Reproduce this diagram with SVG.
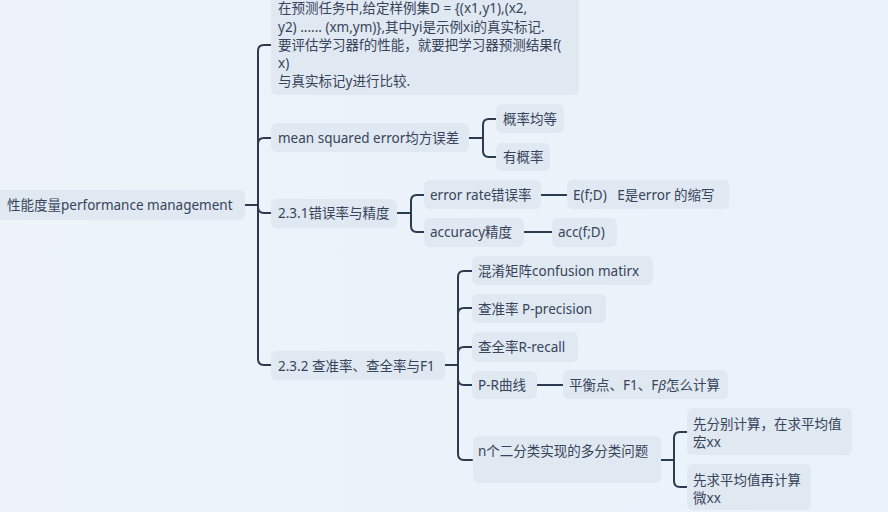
<svg xmlns="http://www.w3.org/2000/svg" width="888" height="512" viewBox="0 0 888 512">
<defs>
<linearGradient id="bg" x1="0" y1="0" x2="1" y2="0">
<stop offset="0" stop-color="#EDF3F9"/>
<stop offset="1" stop-color="#E9F2FB"/>
</linearGradient>
</defs>
<style>
.n{fill:#E0E8F1}
.t{font-family:"Noto Sans","Noto Sans CJK SC",sans-serif;font-size:13.5px;fill:#37445A}
.c{fill:none;stroke:#2E3A50;stroke-width:2;stroke-linecap:round}
</style>
<rect width="888" height="512" fill="url(#bg)"/>
<g id="connectors">
<path class="c" d="M245,205 H258"/>
<path class="c" d="M258,205 V51 Q258,45 264,45 H271"/>
<path class="c" d="M258,205 V144 Q258,138 264,138 H271"/>
<path class="c" d="M258,205 V207 Q258,213 264,213 H271"/>
<path class="c" d="M258,205 V359 Q258,365 264,365 H271"/>
<path class="c" d="M469,138 H483"/>
<path class="c" d="M483,138 V125 Q483,119 489,119 H496"/>
<path class="c" d="M483,138 V151 Q483,157 489,157 H496"/>
<path class="c" d="M397,213 H411"/>
<path class="c" d="M411,213 V201 Q411,195 417,195 H424"/>
<path class="c" d="M411,213 V226 Q411,232 417,232 H424"/>
<path class="c" d="M541,195 H567"/>
<path class="c" d="M524,232 H552"/>
<path class="c" d="M445,365 H458"/>
<path class="c" d="M458,365 V277 Q458,271 464,271 H472"/>
<path class="c" d="M458,365 V314 Q458,308 464,308 H472"/>
<path class="c" d="M458,365 V353 Q458,347 464,347 H472"/>
<path class="c" d="M458,365 V379 Q458,385 464,385 H472"/>
<path class="c" d="M458,365 V454 Q458,460 464,460 H472"/>
<path class="c" d="M537,385 H563"/>
<path class="c" d="M661,460 H674"/>
<path class="c" d="M674,460 V438 Q674,432 680,432 H687"/>
<path class="c" d="M674,460 V481 Q674,487 680,487 H687"/>
</g>
<g id="root">
<rect class="n" x="-10" y="190" width="255" height="30" rx="6"/>
<text class="t" x="7" y="210">性能度量performance management</text>
</g>
<g id="intro">
<rect class="n" x="271" y="-8" width="308" height="103" rx="6"/>
<text class="t" x="278" y="13">在预测任务中,给定样例集D = {(x1,y1),(x2,</text>
<text class="t" x="278" y="32">y2) ...... (xm,ym)},其中yi是示例xi的真实标记.</text>
<text class="t" x="278" y="50">要评估学习器f的性能，就要把学习器预测结果f(</text>
<text class="t" x="278" y="68">x)</text>
<text class="t" x="278" y="86">与真实标记y进行比较.</text>
</g>
<g id="mse">
<rect class="n" x="271" y="123" width="198" height="29" rx="6"/>
<text class="t" x="278" y="143">mean squared error均方误差</text>
</g>
<g id="mse-a">
<rect class="n" x="496" y="104" width="68" height="29" rx="6"/>
<text class="t" x="503" y="124">概率均等</text>
</g>
<g id="mse-b">
<rect class="n" x="496" y="143" width="54" height="28" rx="6"/>
<text class="t" x="503" y="162">有概率</text>
</g>
<g id="s231">
<rect class="n" x="271" y="199" width="126" height="29" rx="6"/>
<text class="t" x="278" y="218">2.3.1错误率与精度</text>
</g>
<g id="err">
<rect class="n" x="424" y="180" width="117" height="29" rx="6"/>
<text class="t" x="430" y="200">error rate错误率</text>
</g>
<g id="efd">
<rect class="n" x="567" y="180" width="162" height="29" rx="6"/>
<text class="t" x="573" y="200" xml:space="preserve">E(f;D)   E是error 的缩写</text>
</g>
<g id="acc">
<rect class="n" x="424" y="218" width="100" height="29" rx="6"/>
<text class="t" x="430" y="237">accuracy精度</text>
</g>
<g id="accfd">
<rect class="n" x="552" y="218" width="65" height="29" rx="6"/>
<text class="t" x="558" y="237">acc(f;D)</text>
</g>
<g id="s232">
<rect class="n" x="271" y="351" width="174" height="29" rx="6"/>
<text class="t" x="278" y="371">2.3.2 查准率、查全率与F1</text>
</g>
<g id="cm">
<rect class="n" x="472" y="256" width="181" height="29" rx="6"/>
<text class="t" x="478" y="276">混淆矩阵confusion matirx</text>
</g>
<g id="prec">
<rect class="n" x="472" y="294" width="134" height="29" rx="6"/>
<text class="t" x="478" y="314">查准率 P-precision</text>
</g>
<g id="rec">
<rect class="n" x="472" y="332" width="106" height="30" rx="6"/>
<text class="t" x="478" y="352">查全率R-recall</text>
</g>
<g id="pr">
<rect class="n" x="472" y="371" width="65" height="28" rx="6"/>
<text class="t" x="478" y="390">P-R曲线</text>
</g>
<g id="bep">
<rect class="n" x="563" y="370" width="165" height="29" rx="6"/>
<text class="t" x="569" y="390">平衡点、F1、F<tspan font-style="italic">β</tspan>怎么计算</text>
</g>
<g id="multi">
<rect class="n" x="473" y="436" width="188" height="47" rx="6"/>
<text class="t" x="478" y="456">n个二分类实现的多分类问题</text>
</g>
<g id="macro">
<rect class="n" x="687" y="408" width="165" height="47" rx="6"/>
<text class="t" x="693" y="429">先分别计算，在求平均值</text>
<text class="t" x="693" y="447">宏xx</text>
</g>
<g id="micro">
<rect class="n" x="687" y="464" width="124" height="46" rx="6"/>
<text class="t" x="693" y="485">先求平均值再计算</text>
<text class="t" x="693" y="503">微xx</text>
</g>
</svg>
